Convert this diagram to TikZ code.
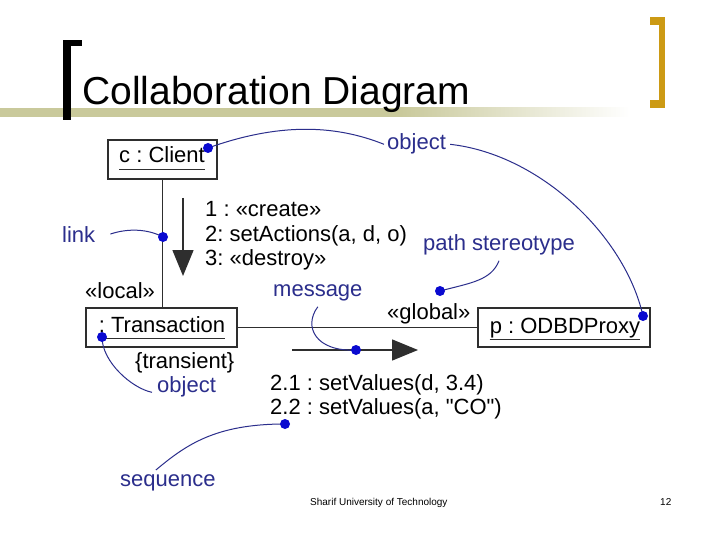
\documentclass[tikz,border=0pt]{standalone}
\usepackage{fontspec}
\setmainfont{Liberation Sans}
\usetikzlibrary{arrows.meta,positioning,calc}
\definecolor{titlegold}{HTML}{CC9A14}
\definecolor{barolive}{HTML}{C9C99B}
\definecolor{notenavy}{HTML}{2B2E8C}
\definecolor{dotblue}{HTML}{0A0AD0}
\definecolor{umlgray}{HTML}{2E2E2E}

\tikzset{
  umltext/.style={font=\fontsize{22}{24}\selectfont, inner sep=0pt, anchor=base west},
  objbox/.style={draw=umlgray, line width=1.1pt, inner sep=0pt},
  note/.style={notenavy, font=\fontsize{22}{24}\selectfont, inner sep=0pt, anchor=base west},
  noteline/.style={notenavy, line width=1pt},
  msgarrow/.style={umlgray, line width=1.5pt, -{Triangle[length=26pt,width=21pt]}},
}

\begin{document}
\frenchspacing
\begin{tikzpicture}[x=1pt,y=-1pt]
\useasboundingbox (0,0) rectangle (720,540);
\fill[white] (0,0) rectangle (720,540);

% title bar and brackets
\fill[barolive] (0,108) rectangle (400,117);
\shade[left color=barolive, right color=white] (400,108) rectangle (630,117);
\fill[black] (63,40) rectangle (71,120);
\fill[black] (63,40) rectangle (82,46);
\fill[titlegold] (659,17) rectangle (665,108);
\fill[titlegold] (650,17) rectangle (665,25);
\fill[titlegold] (650,100) rectangle (665,108);
\node[anchor=base west, inner sep=0pt, font=\fontsize{39}{40}\selectfont] (title) at (82,105) {Collaboration Diagram};

% objects
\node[objbox, minimum width=109, minimum height=39] (client) at (162.5,159.5) {};
\node[objbox, minimum width=151, minimum height=39] (trans) at (161.5,327.5) {};
\node[objbox, minimum width=172, minimum height=39] (proxy) at (564,327.5) {};
\node[umltext, anchor=base] (clienttxt) at (162,163) {c : Client};
\node[umltext, anchor=base] (transtxt) at (162,332) {: Transaction};
\node[umltext, anchor=base] (proxytxt) at (565,333) {p : ODBDProxy};
\foreach \n in {clienttxt,transtxt,proxytxt}
  \draw[umlgray, line width=0.9pt] ([yshift=-6pt]\n.base west) -- ([yshift=-6pt]\n.base east);

% links
\draw[umlgray, line width=1.2pt] (client.south) -- (client.south |- trans.north);
\draw[umlgray, line width=1.2pt] (trans.east) -- (proxy.west);
\node[umltext] (local) at (85,298) {«local»};
\node[umltext] (global) at (387,319) {«global»};
\node[umltext] (transient) at (135,368) {\{transient\}};

% messages
\coordinate (downstart) at (183,198);
\coordinate (downend) at (183,276);
\draw[msgarrow] (downstart) -- (downend);
\node[umltext] (msgone) at (205,217) {1 : «create»};
\node[umltext] (msgtwo) at (205,241) {2: setActions(a, d, o)};
\node[umltext] (msgthree) at (205,265) {3: «destroy»};
\coordinate (rightstart) at (292,350);
\coordinate (rightend) at (418,350);
\draw[msgarrow] (rightstart) -- (rightend);
\node[umltext] (valone) at (270,390) {2.1 : setValues(d, 3.4)};
\node[umltext] (valtwo) at (270,414) {2.2 : setValues(a, \textquotedbl CO\textquotedbl)};

% notes
\node[note] (objtop) at (387,150) {object};
\node[note] (link) at (62,242) {link};
\node[note] (stereo) at (423,250) {path stereotype};
\node[note] (message) at (273,296) {message};
\node[note] (objlow) at (157,392) {object};
\node[note] (seq) at (120,486) {sequence};

\coordinate (clientdot) at (208,148);
\coordinate (linkdot) at (163,237);
\coordinate (proxydot) at (643,316);
\coordinate (stereodot) at (440,291);
\coordinate (msgdot) at (356,350);
\coordinate (transdot) at (102,337);
\coordinate (seqdot) at (285,424);

\draw[noteline] ([xshift=-3pt]objtop.west) .. controls +(-50,-20) and +(70,-25) .. (clientdot);
\draw[noteline] ([xshift=4pt]objtop.east) .. controls +(90,10) and +(-18,-80) .. (proxydot);
\draw[noteline] ([xshift=15pt]link.east) .. controls +(18,-6) and +(-15,-8) .. (linkdot);
\draw[noteline] ([yshift=-6pt]stereo.south) .. controls +(-8,20) and +(30,-8) .. (stereodot);
\draw[noteline] ([yshift=-6pt]message.south) .. controls +(-15,20) and +(-40,2) .. (msgdot);
\draw[noteline] (transdot) .. controls +(0,25) and +(-20,-4) .. ([xshift=-5pt,yshift=-6pt]objlow.west);
\draw[noteline] ([xshift=-12pt,yshift=4pt]seq.north) .. controls +(30,-25) and +(-70,0) .. (seqdot);
\foreach \d in {clientdot,linkdot,proxydot,stereodot,msgdot,transdot,seqdot}
  \fill[dotblue] (\d) circle (5);

% footer
\node[anchor=base west, inner sep=0pt, font=\fontsize{10}{12}\selectfont] (school) at (310,505) {Sharif University of Technology};
\node[anchor=base west, inner sep=0pt, font=\fontsize{10}{12}\selectfont] (page) at (660,505) {12};
\end{tikzpicture}
\end{document}
